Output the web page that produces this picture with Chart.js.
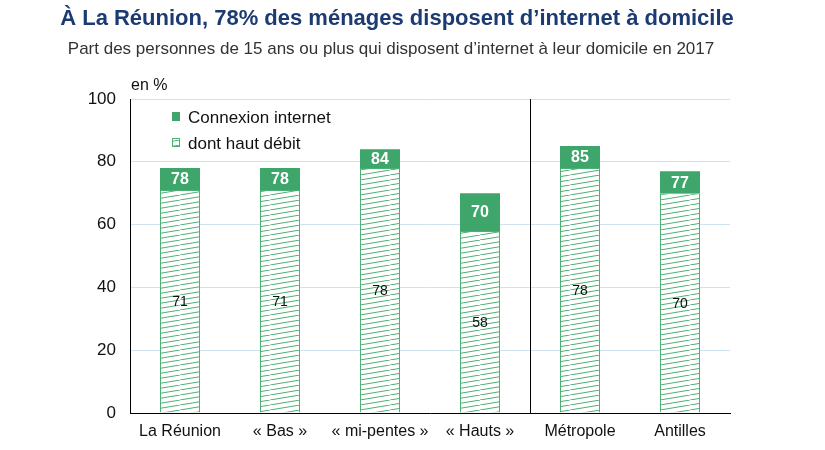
<!DOCTYPE html>
<html>
<head>
<meta charset="utf-8">
<script src="https://cdn.jsdelivr.net/npm/chart.js@4"></script>
<style>
  body { margin: 0; background: #fff; }
  #wrap { width: 825px; height: 450px; position: relative; }
</style>
</head>
<body>
<div id="wrap"><canvas id="chart"></canvas></div>
<script>
// Data
const categories = ['La Réunion', '« Bas »', '« mi-pentes »', '« Hauts »', 'Métropole', 'Antilles'];
const connexion = [78, 78, 84, 70, 85, 77];
const hautDebit = [71, 71, 78, 58, 78, 70];
const yTicks = [0, 20, 40, 60, 80, 100];

const GREEN = '#3ea66b';
const HATCH = '#4caf74';
const FONT = "'Liberation Sans', Arial, sans-serif";

// hatch pattern for "dont haut débit"
function makeHatch() {
    const c = document.createElement('canvas');
    c.width = 30; c.height = 5;
    const g = c.getContext('2d');
    g.fillStyle = '#fff';
    g.fillRect(0, 0, 30, 5);
    g.strokeStyle = HATCH;
    g.lineWidth = 1;
    for (let k = -1; k <= 1; k++) {
        g.beginPath();
        g.moveTo(k * 30, 5);
        g.lineTo(k * 30 + 30, 0);
        g.stroke();
    }
    return g.createPattern(c, 'repeat');
}
const hatch = makeHatch();

// remainder on top of the hatched part
const reste = connexion.map((v, i) => v - hautDebit[i]);

const decor = {
    id: 'decor',
    afterDatasetsDraw(chart) {
        const ctx = chart.ctx;
        const x = chart.scales.x, y = chart.scales.y;
        const area = chart.chartArea;
        ctx.save();

        // separator between Réunion and the comparisons
        const sx = Math.round((x.getPixelForValue(3) + x.getPixelForValue(4)) / 2) + 0.5;
        ctx.strokeStyle = '#000';
        ctx.lineWidth = 1;
        ctx.beginPath();
        ctx.moveTo(sx, area.top);
        ctx.lineTo(sx, area.bottom);
        ctx.stroke();

        // value labels
        ctx.textAlign = 'center';
        ctx.textBaseline = 'middle';
        categories.forEach((c, i) => {
            const px = x.getPixelForValue(i);
            ctx.fillStyle = '#fff';
            ctx.font = 'bold 16px ' + FONT;
            ctx.fillText(connexion[i], px, (y.getPixelForValue(connexion[i]) + y.getPixelForValue(hautDebit[i])) / 2 + 1);
            ctx.fillStyle = '#111';
            ctx.font = '14px ' + FONT;
            ctx.fillText(hautDebit[i], px, y.getPixelForValue(hautDebit[i] / 2) + 1);
        });

        // legend
        ctx.textAlign = 'left';
        ctx.textBaseline = 'alphabetic';
        ctx.fillStyle = GREEN;
        ctx.fillRect(172, 112, 8, 9);
        ctx.fillStyle = hatch;
        ctx.fillRect(172, 138, 8, 9);
        ctx.strokeStyle = HATCH;
        ctx.strokeRect(172.5, 138.5, 7, 8);
        ctx.fillStyle = '#111';
        ctx.font = '17px ' + FONT;
        ctx.fillText('Connexion internet', 188, 123);
        ctx.fillText('dont haut débit', 188, 149);

        // titles
        ctx.textAlign = 'center';
        ctx.fillStyle = '#1d3b73';
        ctx.font = 'bold 22px ' + FONT;
        ctx.fillText('À La Réunion, 78% des ménages disposent d’internet à domicile', 397, 25);
        ctx.fillStyle = '#333';
        ctx.font = '17px ' + FONT;
        ctx.fillText('Part des personnes de 15 ans ou plus qui disposent d’internet à leur domicile en 2017', 391, 54);
        ctx.textAlign = 'left';
        ctx.fillStyle = '#111';
        ctx.font = '16px ' + FONT;
        ctx.fillText('en %', 131, 90);
        ctx.restore();
    }
};

new Chart(document.getElementById('chart'), {
    type: 'bar',
    data: {
        labels: categories,
        datasets: [{
            label: 'dont haut débit',
            data: hautDebit,
            backgroundColor: hatch,
            borderColor: HATCH,
            borderWidth: 1,
            barPercentage: 0.4,
            categoryPercentage: 1
        }, {
            label: 'Connexion internet',
            data: reste,
            backgroundColor: GREEN,
            borderWidth: 0,
            barPercentage: 0.4,
            categoryPercentage: 1
        }]
    },
    options: {
        responsive: true,
        maintainAspectRatio: false,
        animation: false,
        layout: { padding: { top: 99, right: 95, bottom: 0, left: 0 } },
        plugins: {
            legend: { display: false },
            tooltip: { enabled: false }
        },
        scales: {
            x: {
                stacked: true,
                grid: { display: false, drawTicks: false },
                border: { color: '#000', width: 1 },
                ticks: {
                    color: '#111',
                    font: { family: FONT, size: 16 },
                    padding: 9,
                    maxRotation: 0,
                    minRotation: 0,
                    autoSkip: false
                },
                afterFit(s) { s.height = 37; }
            },
            y: {
                stacked: true,
                min: 0,
                max: 100,
                afterBuildTicks(s) { s.ticks = yTicks.map(v => ({ value: v })); },
                grid: { color: '#cfe2ef', drawTicks: false },
                border: { color: '#000', width: 1 },
                ticks: { color: '#111', font: { family: FONT, size: 17 }, padding: 14 },
                afterFit(s) { s.width = 130; }
            }
        }
    },
    plugins: [decor]
});
</script>
</body>
</html>
